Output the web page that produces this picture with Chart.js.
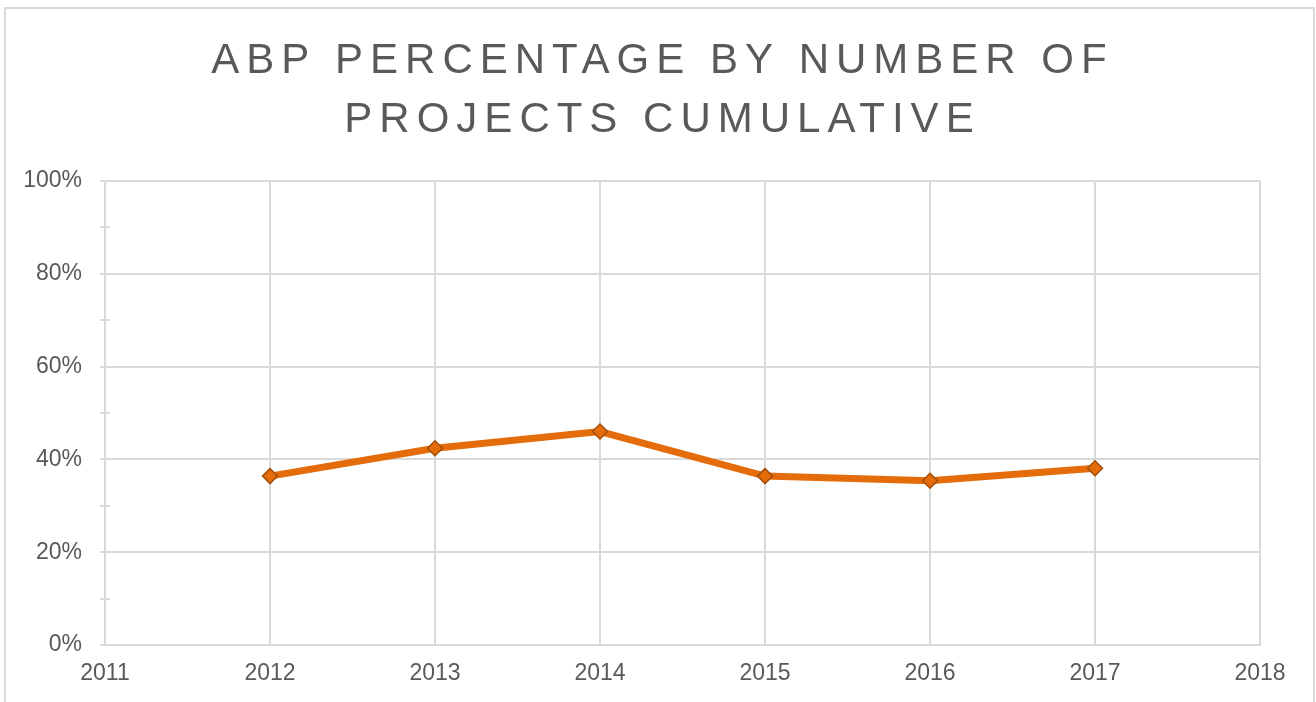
<!DOCTYPE html>
<html>
<head>
<meta charset="utf-8">
<script src="https://cdn.jsdelivr.net/npm/chart.js@4/dist/chart.umd.min.js"></script>
<style>
  html, body { margin: 0; padding: 0; background: #fff; }
  #wrap { position: relative; width: 1316px; height: 702px; }
</style>
</head>
<body>
<div id="wrap"><canvas id="abpChart" width="1316" height="702"></canvas></div>
<script>
const titleLines = ['ABP PERCENTAGE BY NUMBER OF', 'PROJECTS CUMULATIVE']
const years = [2012, 2013, 2014, 2015, 2016, 2017]
const abpPercent = [36.4, 42.4, 46.0, 36.4, 35.4, 38.1]
const minorTicks = [10, 30, 50, 70, 90]

const gridColor = '#d9d9d9'
const textColor = '#595959'
const fontFamily = '"Liberation Sans", Arial, sans-serif'

// frame, spaced title and the inner half of the minor y ticks
const decorations = {
    id: 'decorations',
    beforeDraw(chart) {
        const ctx = chart.ctx
        ctx.save()
        ctx.strokeStyle = gridColor
        ctx.lineWidth = 2
        ctx.strokeRect(5, 8, 1309, 720)
        ctx.restore()
    },
    afterDraw(chart) {
        const ctx = chart.ctx
        const yScale = chart.scales.y
        const left = chart.chartArea.left

        ctx.save()
        ctx.strokeStyle = gridColor
        ctx.lineWidth = 2
        minorTicks.forEach(v => {
            const py = Math.round(yScale.getPixelForValue(v))
            ctx.beginPath()
            ctx.moveTo(left, py)
            ctx.lineTo(left + 5, py)
            ctx.stroke()
        })
        ctx.restore()

        const spacing = 7
        const baselines = [73, 132]
        ctx.save()
        ctx.font = '42px ' + fontFamily
        ctx.fillStyle = textColor
        ctx.textAlign = 'left'
        ctx.textBaseline = 'alphabetic'
        ctx.letterSpacing = spacing + 'px'
        titleLines.forEach((line, i) => {
            const w = ctx.measureText(line).width - spacing
            ctx.fillText(line, 659 - w / 2, baselines[i])
        })
        ctx.restore()
    }
}

const ctx = document.getElementById('abpChart').getContext('2d')

new Chart(ctx, {
    type: 'line',
    data: {
        datasets: [{
            label: 'ABP %',
            data: years.map((y, i) => ({ x: y, y: abpPercent[i] })),
            borderColor: '#E46C0A',
            borderWidth: 7,
            backgroundColor: '#E46C0A',
            pointStyle: 'rectRot',
            pointRadius: 7.5,
            pointBorderColor: '#A24E08',
            pointBorderWidth: 1.5,
            pointBackgroundColor: '#E46C0A',
            tension: 0,
            fill: false
        }]
    },
    options: {
        responsive: false,
        animation: false,
        layout: { padding: { left: 0, top: 181, right: 56, bottom: 0 } },
        plugins: {
            legend: { display: false },
            tooltip: { enabled: false },
            title: { display: false }
        },
        scales: {
            x: {
                type: 'linear',
                min: 2011,
                max: 2018,
                ticks: {
                    stepSize: 1,
                    padding: 15,
                    color: textColor,
                    font: { family: fontFamily, size: 23 },
                    callback: v => String(v)
                },
                grid: { color: gridColor, lineWidth: 2, drawTicks: false },
                border: { color: gridColor, width: 2 },
                afterFit: scale => { scale.height = 57 }
            },
            y: {
                min: 0,
                max: 100,
                ticks: {
                    stepSize: 10,
                    padding: 18,
                    color: textColor,
                    font: { family: fontFamily, size: 23 },
                    callback: v => (v % 20 === 0 ? v + '%' : '')
                },
                grid: {
                    color: c => (c.tick && c.tick.value % 20 === 0 ? gridColor : 'rgba(0,0,0,0)'),
                    tickColor: gridColor,
                    lineWidth: 2,
                    tickLength: 5
                },
                border: { color: gridColor, width: 2 },
                afterFit: scale => { scale.width = 105 }
            }
        }
    },
    plugins: [decorations]
})
</script>
</body>
</html>
